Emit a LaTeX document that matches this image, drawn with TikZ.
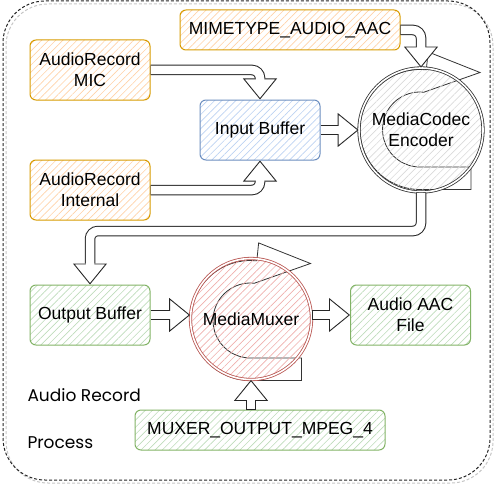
\documentclass[tikz,border=0pt]{standalone}
\usepackage{fontspec}
\setmainfont{Liberation Sans}
\newfontfamily\handfont{Poppins}
\usepackage{tikz}
\definecolor{ob}{HTML}{D79B00}
\definecolor{of}{HTML}{FFD2A8}
\definecolor{bb}{HTML}{6C8EBF}
\definecolor{bf}{HTML}{BCD2F2}
\definecolor{gb}{HTML}{82B366}
\definecolor{gf}{HTML}{BEDCBB}
\definecolor{rb}{HTML}{B85450}
\definecolor{rf}{HTML}{EFAFAC}
\definecolor{hf}{HTML}{DADADA}
\usetikzlibrary{positioning}
\usetikzlibrary{arrows.meta}
\usetikzlibrary{patterns.meta}

\tikzset{
  box/.style={rectangle, rounded corners=6pt, line width=1pt, minimum width=120pt, minimum height=60pt, inner sep=0pt, align=center, font=\fontsize{17.5}{21}\selectfont},
  hatch/.style={pattern={Lines[angle=45,distance=5pt,line width=0.65pt]}, pattern color=#1},
  flex/.style={line width=10.5pt, draw=black!85, rounded corners=8pt, -{Triangle[length=21pt,width=34pt,line width=0.9pt,fill=white]}, postaction={draw=white, line width=8.5pt, -, shorten >=19pt, shorten <=0.6pt}},
  spinarrow/.pic={
    \draw [line width=0.8pt, draw=black!80] (51pt,-60pt) -- (0pt,-60pt) arc[start angle=270, end angle=84, radius=60pt] -- (84:78pt) -- (60pt,57pt) -- (84:37.5pt) arc[start angle=84, end angle=270, radius=37.5pt] -- (51pt,-37.5pt) -- cycle;
  }
}

\begin{document}
\begin{tikzpicture}
\useasboundingbox (0pt,0pt) rectangle (502pt,-492pt);
% frame with its shadow
\draw [gray!45, line width=1pt, dash pattern=on 3pt off 2pt, rounded corners=42pt] (6pt,-4pt) rectangle (493pt,-483pt);
\draw [black!85, line width=1pt, dash pattern=on 3pt off 2pt, rounded corners=42pt] (3pt,-1pt) rectangle (490pt,-480pt);

\node (mime) [box, draw=ob, hatch=of, minimum width=220pt, minimum height=40pt] at (290pt, -30pt) {MIMETYPE\_AUDIO\_AAC};
\node (mic) [box, draw=ob, hatch=of] at (90pt, -70pt) {AudioRecord\\MIC};
\node (internal) [box, draw=ob, hatch=of] at (90pt, -190pt) {AudioRecord\\Internal};
\node (inbuf) [box, draw=bb, hatch=bf] at (260pt, -130pt) {Input Buffer};
\pic at (420pt, -129.5pt) {spinarrow};
\node (enc) [box, circle, minimum size=124pt, draw=black!80, double=white, double distance=1.6pt, line width=0.8pt, hatch=hf] at (421pt, -130pt) {MediaCodec\\Encoder};
\node (outbuf) [box, draw=gb, hatch=gf] at (90pt, -315pt) {Output Buffer};
\pic at (250.5pt, -320.5pt) {spinarrow};
\node (mux) [box, circle, minimum size=121pt, draw=rb, double=white, double distance=1.6pt, line width=0.8pt, hatch=rf] at (251pt, -319pt) {MediaMuxer};
\node (aac) [box, draw=gb, hatch=gf] at (410.5pt, -315pt) {Audio AAC\\File};
\node (muxout) [box, draw=gb, hatch=gf, minimum width=250pt, minimum height=40pt] at (260pt, -430pt) {MUXER\_OUTPUT\_MPEG\_4};
\node (title1) [anchor=west, font=\handfont\fontsize{17}{20}\selectfont] at (24pt, -395pt) {Audio Record};
\node (title2) [anchor=west, font=\handfont\fontsize{17}{20}\selectfont] at (24pt, -443pt) {Process};
\coordinate (bend) at (90pt, -231pt);

\draw [flex] (mic.east) -| (inbuf.north);
\draw [flex] (internal.east) -| (inbuf.south);
\draw [flex] (inbuf.east) -- (enc.west);
\draw [flex] (mime.east) -| (enc.north);
\draw [flex] (enc.south) |- (bend) -- (outbuf.north);
\draw [flex] (outbuf.east) -- (outbuf.east -| mux.west);
\draw [flex] (mux.east |- aac.west) -- (aac.west);
\draw [flex] (muxout.north -| mux.south) -- (mux.south);
\end{tikzpicture}
\end{document}
